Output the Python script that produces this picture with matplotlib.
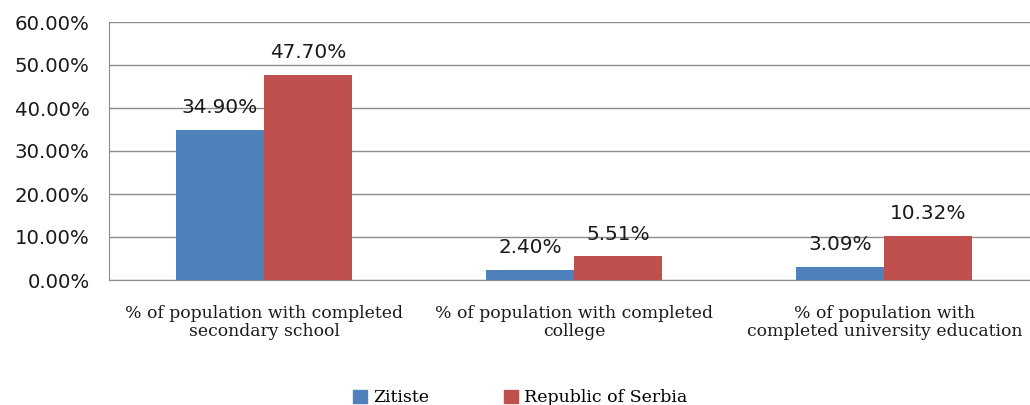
import matplotlib.pyplot as plt
import numpy as np
from matplotlib.patches import Patch

blueColor = "#4f81bd"
redColor = "#c0504d"
gridColor = "#8c8c8c"

categories = ["% of population with completed\nsecondary school",
              "% of population with completed\ncollege",
              "% of population with\ncompleted university education"]
zitiste = [34.90, 2.40, 3.09]
serbia = [47.70, 5.51, 10.32]
yticks = [0, 10, 20, 30, 40, 50, 60]

fig = plt.figure(figsize=(10.3, 4.05), dpi=100)
ax = fig.add_axes([109 / 1030, 1 - 280 / 405, 921 / 1030, 258 / 405])

x = np.arange(len(categories))
w = 0.284
b1 = ax.bar(x - w / 2, zitiste, w, color=blueColor, zorder=3)
b2 = ax.bar(x + w / 2, serbia, w, color=redColor, zorder=3)

for bars, vals in ((b1, zitiste), (b2, serbia)):
    for bar, v in zip(bars, vals):
        ax.annotate("%.2f%%" % v, (bar.get_x() + bar.get_width() / 2, v),
                    xytext=(0, 9), textcoords="offset points",
                    ha="center", va="bottom", fontsize=14.4,
                    family="DejaVu Sans", color="#1a1a1a")

ax.set_ylim(0, 60)
ax.set_xlim(-0.5, 2.47)
ax.set_yticks(yticks)
ax.set_yticklabels(["%.2f%%" % t for t in yticks], fontsize=14.2, color="#1a1a1a")
ax.set_xticks(x)
ax.set_xticklabels(categories, fontsize=12.4, family="DejaVu Serif",
                   linespacing=1.1, color="#1a1a1a")
ax.tick_params(axis="both", length=0)
ax.tick_params(axis="y", pad=14)
ax.tick_params(axis="x", pad=18)

ax.grid(axis="y", color=gridColor, linewidth=1, zorder=0)
for s in ("top", "right"):
    ax.spines[s].set_visible(False)
ax.spines["left"].set_color(gridColor)
ax.spines["bottom"].set_color(gridColor)

handles = [Patch(color=blueColor), Patch(color=redColor)]
fig.legend(handles, ["Zitiste", "Republic of Serbia"], loc="center",
           bbox_to_anchor=(520 / 1030, 1 - 398 / 405), ncol=2, frameon=False,
           prop={"family": "DejaVu Serif", "size": 12.5},
           handlelength=0.8, handleheight=0.8, handletextpad=0.35,
           columnspacing=4.3)

fig.savefig("out.png", dpi=100)
